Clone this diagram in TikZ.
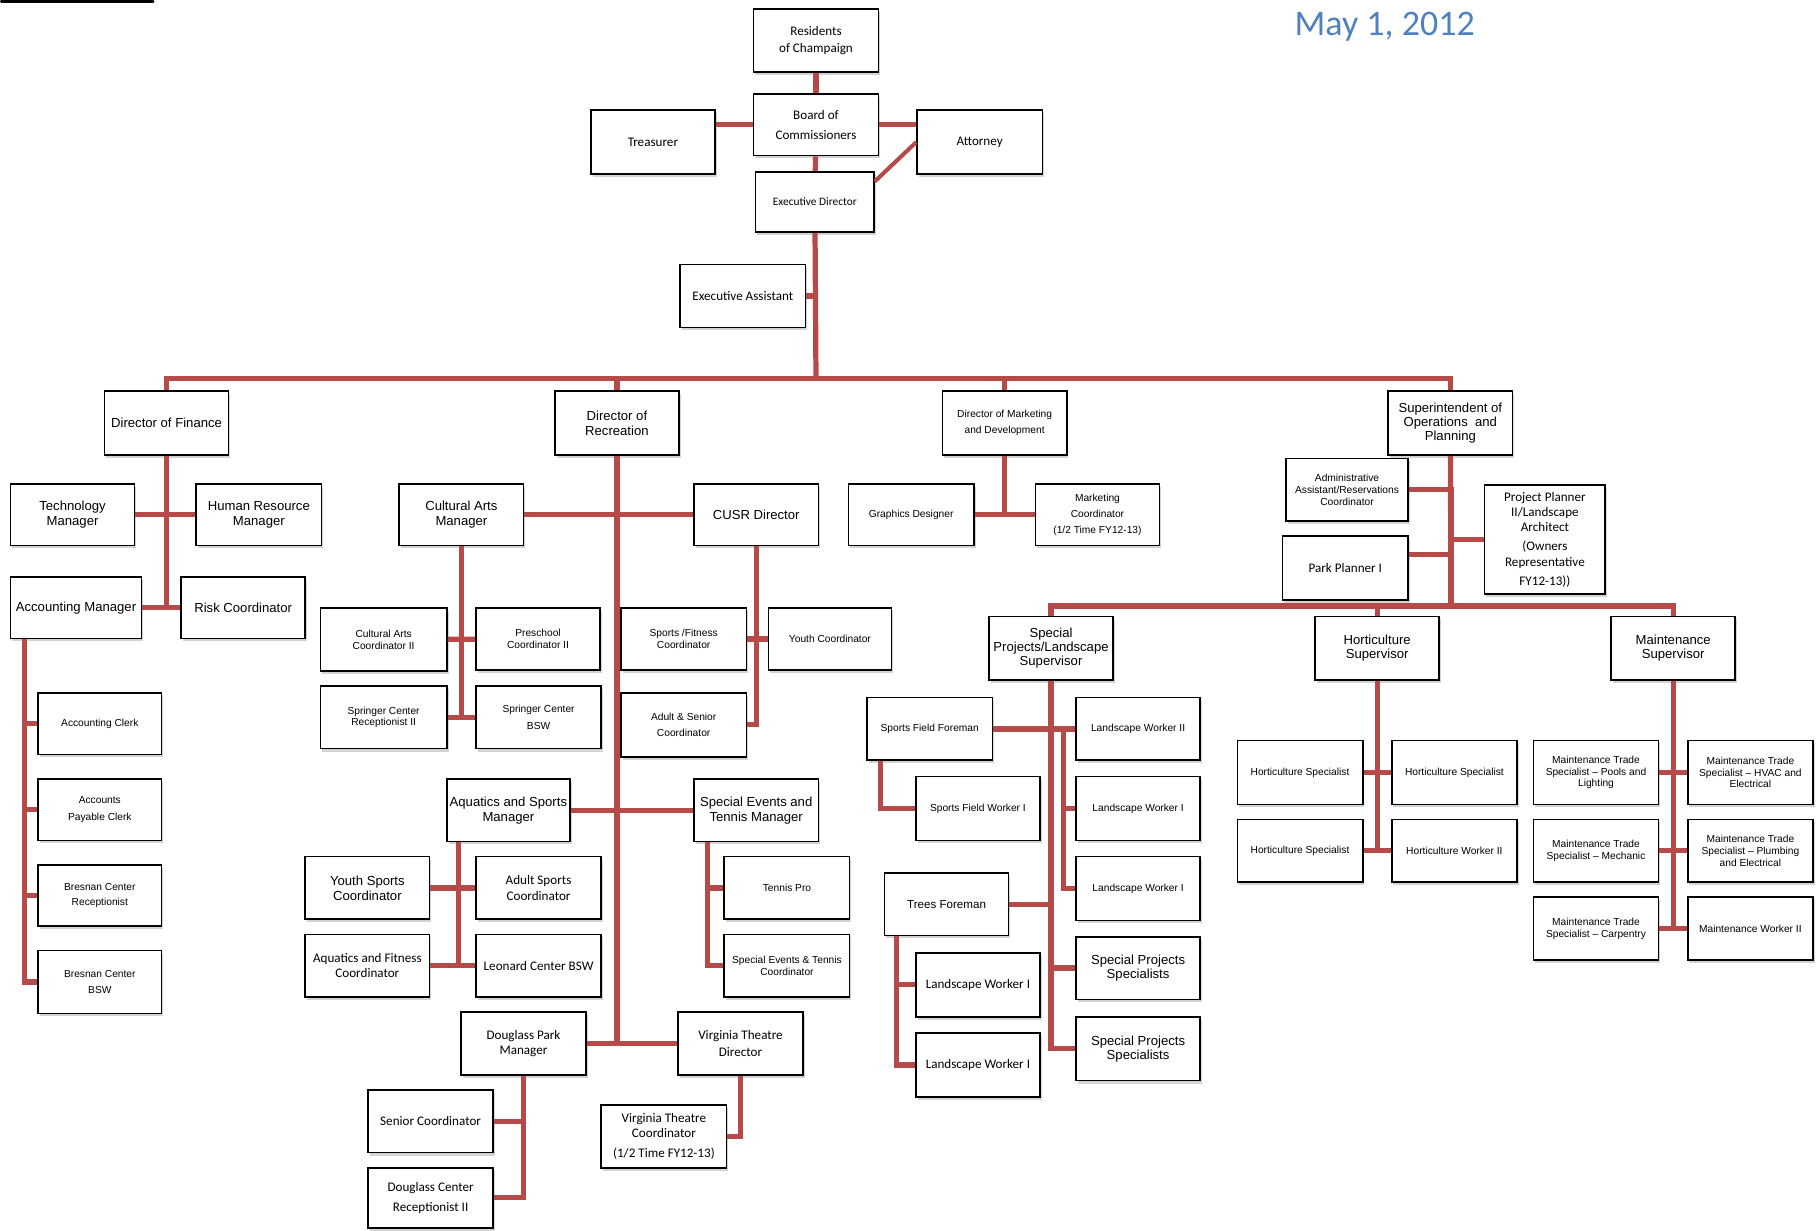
\documentclass[tikz,border=0pt]{standalone}
\usepackage{fontspec}
\setmainfont{Liberation Sans}
\newfontfamily\calib{Carlito}
\usetikzlibrary{shadows}
\definecolor{orgred}{RGB}{181,74,72}
\definecolor{dateblue}{RGB}{79,129,189}
\tikzset{
  box/.style={draw, line width=1.4pt, fill=white, inner sep=1pt, align=center,
    minimum width=107pt, minimum height=54pt,
    drop shadow={shadow xshift=1.5pt, shadow yshift=-2.5pt, opacity=0.35}},
  big/.style={font=\fontsize{11.3}{13}\selectfont},
  mid/.style={font=\fontsize{10}{12}\selectfont},
  sml/.style={font=\fontsize{8.8}{10}\selectfont},
  cal/.style={font=\calib\fontsize{11.3}{13}\selectfont},
  link/.style={draw=orgred, line width=4.5pt},
}
\begin{document}
\begin{tikzpicture}[x=1pt,y=-1pt]
    \useasboundingbox (0,0) rectangle (1568,1060);
    \fill[rounded corners=1pt] (0,0) rectangle (133,2.5);
    \node[text=dateblue, font=\calib\fontsize{31}{31}\selectfont] (date) at (1193,23) {May 1, 2012};

    % board and executive
    \node[box,cal,minimum width=108pt] (res) at (703,35) {Residents\\[2pt]of Champaign};
    \node[box,cal,minimum width=108pt,minimum height=53pt] (brd) at (703,107.5) {Board of\\[4pt]Commissioners};
    \node[box,cal,minimum height=55pt] (tre) at (562.5,122.5) {Treasurer};
    \node[box,cal,minimum width=108pt,minimum height=55pt] (att) at (844,122.5) {Attorney};
    \node[box,font=\calib\fontsize{9.8}{11}\selectfont,minimum width=102pt,minimum height=52pt] (ed) at (702,174) {Executive Director};
    \node[box,cal,minimum width=108pt] (ea) at (640,255) {Executive Assistant};

    % directors
    \node[box,big,minimum height=55pt] (fin) at (143.5,364.5) {Director of Finance};
    \node[box,big,minimum height=55pt] (rec) at (531.5,364.5) {Director of\\Recreation};
    \node[box,sml,minimum height=55pt] (mkt) at (865.5,364.5) {Director of Marketing\\[4pt]and Development};
    \node[box,big,minimum height=55pt,font=\fontsize{11.3}{12}\selectfont] (sup) at (1249.5,364.5) {Superintendent of\\Operations~ and\\Planning};

    % finance
    \node[box,big,minimum height=53pt] (tm) at (62.5,443.5) {Technology\\Manager};
    \node[box,big,minimum width=108pt,minimum height=53pt] (hr) at (223,443.5) {Human Resource\\Manager};
    \node[box,big,minimum width=113pt,minimum height=53pt] (acm) at (65.5,523.5) {Accounting Manager};
    \node[box,big,minimum height=53pt] (rsk) at (209.5,523.5) {Risk Coordinator};
    \node[box,sml,minimum width=106pt,minimum height=53pt] (acl) at (86,623.5) {Accounting Clerk};
    \node[box,sml,minimum width=106pt,minimum height=53pt] (apc) at (86,697.5) {Accounts\\[4pt]Payable Clerk};
    \node[box,sml,minimum width=106pt,minimum height=53pt] (brr) at (86,771.5) {Bresnan Center\\[3pt]Receptionist};
    \node[box,sml,minimum width=106pt] (brb) at (86,846) {Bresnan Center\\[4pt]BSW};

    % recreation
    \node[box,big,minimum height=53pt] (cam) at (397.5,443.5) {Cultural Arts\\Manager};
    \node[box,big,minimum height=53pt] (cusr) at (651.5,443.5) {CUSR Director};
    \node[box,sml,minimum width=109pt] (cac) at (330.5,551) {Cultural Arts\\Coordinator II};
    \node[box,sml,minimum height=53pt] (psc) at (463.5,550.5) {Preschool\\Coordinator II};
    \node[box,sml,minimum width=109pt] (scr) at (330.5,618) {Springer Center\\Receptionist II};
    \node[box,sml,minimum width=108pt] (scb) at (464,618) {Springer Center\\[4pt]BSW};
    \node[box,sml,minimum width=108pt,minimum height=53pt] (sfc) at (589,550.5) {Sports /Fitness\\Coordinator};
    \node[box,sml,minimum width=106pt,minimum height=53pt] (yc) at (715,550.5) {Youth Coordinator};
    \node[box,sml,minimum width=108pt,minimum height=55pt] (asc) at (589,624.5) {Adult \& Senior\\[4pt]Coordinator};
    \node[box,big,minimum width=106pt] (asm) at (438,698) {Aquatics and Sports\\Manager};
    \node[box,big] (setm) at (651.5,698) {Special Events and\\Tennis Manager};
    \node[box,big] (ysc) at (316.5,765) {Youth Sports\\Coordinator};
    \node[box,cal,minimum width=108pt] (adsc) at (464,765) {Adult Sports\\Coordinator};
    \node[box,cal] (afc) at (316.5,832) {Aquatics and Fitness\\Coordinator};
    \node[box,cal,minimum width=108pt] (lbsw) at (464,832) {Leonard Center BSW};
    \node[box,sml,minimum width=108pt] (tpro) at (678,765) {Tennis Pro};
    \node[box,sml,minimum width=108pt] (setc) at (678,832) {Special Events \& Tennis\\Coordinator};
    \node[box,cal,minimum width=108pt] (dpm) at (451,899) {Douglass Park\\Manager};
    \node[box,cal,minimum width=108pt] (vtd) at (638,899) {Virginia Theatre\\[2pt]Director};
    \node[box,cal,minimum width=108pt] (sco) at (371,966) {Senior Coordinator};
    \node[box,cal,minimum width=108pt,minimum height=52pt] (dcr) at (371,1032) {Douglass Center\\[4pt]Receptionist II};
    \node[box,cal,minimum width=108pt] (vtc) at (572,979) {Virginia Theatre\\Coordinator\\[5pt](1/2 Time FY12-13)};

    % marketing
    \node[box,sml,minimum width=108pt,minimum height=53pt] (gd) at (785,443.5) {Graphics Designer};
    \node[box,sml,minimum height=53pt] (mc) at (945.5,443.5) {Marketing\\[3.5pt]Coordinator\\[3.5pt](1/2 Time FY12-13)};

    % operations
    \node[box,sml,minimum width=105pt] (aarc) at (1160.5,422) {Administrative\\Assistant/Reservations\\Coordinator};
    \node[box,cal,minimum width=108pt,minimum height=55pt] (pp1) at (1159,489.5) {Park Planner I};
    \node[box,cal,minimum width=104pt,minimum height=94pt] (ppl) at (1331,465) {Project Planner\\II/Landscape\\Architect\\[4pt](Owners\\Representative\\[4pt]FY12-13))};
    \node[box,big,minimum height=55pt,font=\fontsize{11.3}{12}\selectfont] (spls) at (905.5,558.5) {Special\\Projects/Landscape\\Supervisor};
    \node[box,big,minimum height=55pt,font=\fontsize{11.3}{12}\selectfont] (hsup) at (1186.5,558.5) {Horticulture\\Supervisor};
    \node[box,big,minimum height=55pt,font=\fontsize{11.3}{12}\selectfont] (msup) at (1441.5,558.5) {Maintenance\\Supervisor};

    % special projects
    \node[box,sml,minimum width=108pt] (sff) at (801,628) {Sports Field Foreman};
    \node[box,sml] (lw2) at (980.5,628) {Landscape Worker II};
    \node[box,sml,minimum height=55pt] (sfw) at (842.5,696.5) {Sports Field Worker I};
    \node[box,sml,minimum height=55pt] (lw1a) at (980.5,696.5) {Landscape Worker I};
    \node[box,sml,minimum height=55pt] (lw1b) at (980.5,765.5) {Landscape Worker I};
    \node[box,mid] (tf) at (815.5,779) {Trees Foreman};
    \node[box,big,font=\fontsize{11.3}{12}\selectfont] (sps1) at (980.5,834) {Special Projects\\Specialists};
    \node[box,big,minimum height=55pt,font=\fontsize{11.3}{12}\selectfont] (sps2) at (980.5,903.5) {Special Projects\\Specialists};
    \node[box,cal,minimum height=55pt] (lw1c) at (842.5,848.5) {Landscape Worker I};
    \node[box,cal,minimum height=55pt] (lw1d) at (842.5,917.5) {Landscape Worker I};

    % horticulture
    \node[box,sml,minimum width=108pt,minimum height=55pt] (hs1) at (1120,665.5) {Horticulture Specialist};
    \node[box,sml,minimum width=108pt,minimum height=55pt] (hs2) at (1253,665.5) {Horticulture Specialist};
    \node[box,sml,minimum width=108pt] (hs3) at (1120,733) {Horticulture Specialist};
    \node[box,sml,minimum width=108pt] (hw2) at (1253,733) {Horticulture Worker II};

    % maintenance
    \node[box,sml,minimum width=108pt,minimum height=55pt] (mtp) at (1375,665.5) {Maintenance Trade\\Specialist -- Pools and\\Lighting};
    \node[box,sml,minimum width=108pt,minimum height=55pt] (mth) at (1508,665.5) {Maintenance Trade\\Specialist -- HVAC and\\Electrical};
    \node[box,sml,minimum width=108pt] (mtm) at (1375,733) {Maintenance Trade\\Specialist -- Mechanic};
    \node[box,sml,minimum width=108pt] (mtpe) at (1508,733) {Maintenance Trade\\Specialist -- Plumbing\\and Electrical};
    \node[box,sml,minimum width=108pt] (mtc) at (1375,800) {Maintenance Trade\\Specialist -- Carpentry};
    \node[box,sml,minimum width=108pt] (mw2) at (1508,800) {Maintenance Worker II};

    % connectors
    \coordinate (bus) at (703,326);
    \coordinate (opsbus) at (1250,522);
    \coordinate (lwtop) at (916,628);
    \draw[link] (res) -- (brd);
    \draw[link] (brd) -- (brd -| tre.east);
    \draw[link] (brd) -- (brd -| att.west);
    \draw[link] (brd) -- (ed);
    \draw[link,line width=3.5pt] ([yshift=-9pt]ed.north east) -- (att.west);
    \draw[link] (ed) -- (bus);
    \draw[link] (ea) -- (ea -| bus);
    \foreach \n in {fin,rec,mkt,sup}
        \draw[link] (bus) -| (\n);

    \draw[link] (fin) -- (fin |- acm.east);
    \draw[link] (tm) -- (hr);
    \draw[link] (acm) -- (rsk);
    \foreach \n in {acl,apc,brr,brb}
        \draw[link] ([xshift=13pt]acm.south west) |- (\n);

    \draw[link] (rec) -- (rec |- dpm);
    \draw[link] (cam) -- (cusr);
    \draw[link] (asm) -- (setm);
    \draw[link] (dpm) -- (vtd);
    \draw[link] (cam) -- (cam |- scr);
    \draw[link] (cac) -- (psc);
    \draw[link] (scr) -- (scb);
    \draw[link] (cusr) |- (asc);
    \draw[link] (sfc) -- (yc);
    \draw[link] ([xshift=11pt]asm.south west) |- (afc);
    \draw[link] (ysc) -- (adsc);
    \draw[link] (afc) -- (lbsw);
    \foreach \n in {tpro,setc}
        \draw[link] ([xshift=12pt]setm.south west) |- (\n);
    \foreach \n in {sco,dcr}
        \draw[link] (dpm) |- (\n);
    \draw[link] (vtd) |- (vtc);

    \draw[link] (mkt) -- (mkt |- gd);
    \draw[link] (gd) -- (mc);

    \draw[link] (sup) -- (opsbus);
    \draw[link] (aarc) -| (opsbus);
    \draw[link] ([yshift=12pt]pp1.east) -| (opsbus);
    \draw[link] (ppl) -| (opsbus);
    \foreach \n in {spls,hsup,msup}
        \draw[link] (opsbus) -| (\n);

    \draw[link] (spls) |- (sps2);
    \draw[link] (spls) |- (sps1);
    \draw[link] (tf) -- (tf -| spls);
    \draw[link] (sff) -- (lw2);
    \foreach \n in {lw1a,lw1b}
        \draw[link] (lwtop) |- (\n);
    \draw[link] ([xshift=12pt]sff.south west) |- (sfw);
    \foreach \n in {lw1c,lw1d}
        \draw[link] ([xshift=11pt]tf.south west) |- (\n);

    \draw[link] (hsup) -- (hsup |- hs3);
    \draw[link] (hs1) -- (hs2);
    \draw[link] (hs3) -- (hw2);
    \draw[link] (msup) -- (msup |- mtc);
    \draw[link] (mtp) -- (mth);
    \draw[link] (mtm) -- (mtpe);
    \draw[link] (mtc) -- (mw2);
\end{tikzpicture}
\end{document}
